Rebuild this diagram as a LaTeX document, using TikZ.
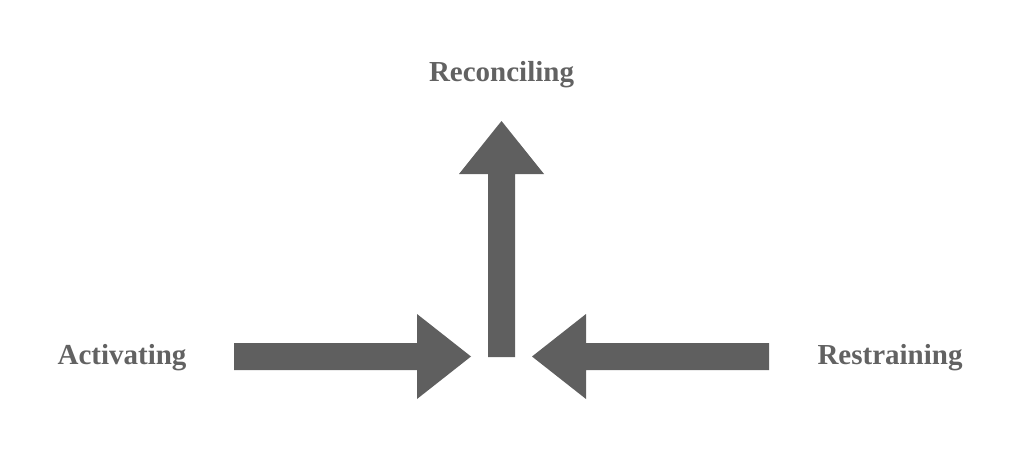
\documentclass[tikz,border=0pt]{standalone}
\usepackage{fontspec}
\setmainfont{Liberation Serif}
\definecolor{arrowgray}{HTML}{5F5F5F}
\definecolor{textgray}{HTML}{626262}
\begin{document}
\begin{tikzpicture}[x=1pt,y=-1pt,
  label/.style={font=\fontsize{29}{30}\selectfont\bfseries, text=textgray, inner sep=0pt, anchor=base},
  blockarrow/.style={fill=arrowgray, draw=none}]
\useasboundingbox (0,0) rectangle (1024,468);
% labels
\node[label] (rec) at (501.5,82) {Reconciling};
\node[label] (act) at (122,364) {Activating};
\node[label] (res) at (890,364) {Restraining};
% meeting point
\coordinate (c) at (501.5,357);
% left arrow (Activating)
\fill[blockarrow] (234,343) -- (417,343) -- (417,314) -- (471,356.5) -- (417,399) -- (417,370) -- (234,370) -- cycle;
% right arrow (Restraining)
\fill[blockarrow] (769,343) -- (586,343) -- (586,314) -- (532,356.5) -- (586,399) -- (586,370) -- (769,370) -- cycle;
% up arrow (Reconciling)
\fill[blockarrow] (488,357) -- (488,174) -- (459,174) -- (501.5,121) -- (544,174) -- (515,174) -- (515,357) -- cycle;
\end{tikzpicture}
\end{document}
